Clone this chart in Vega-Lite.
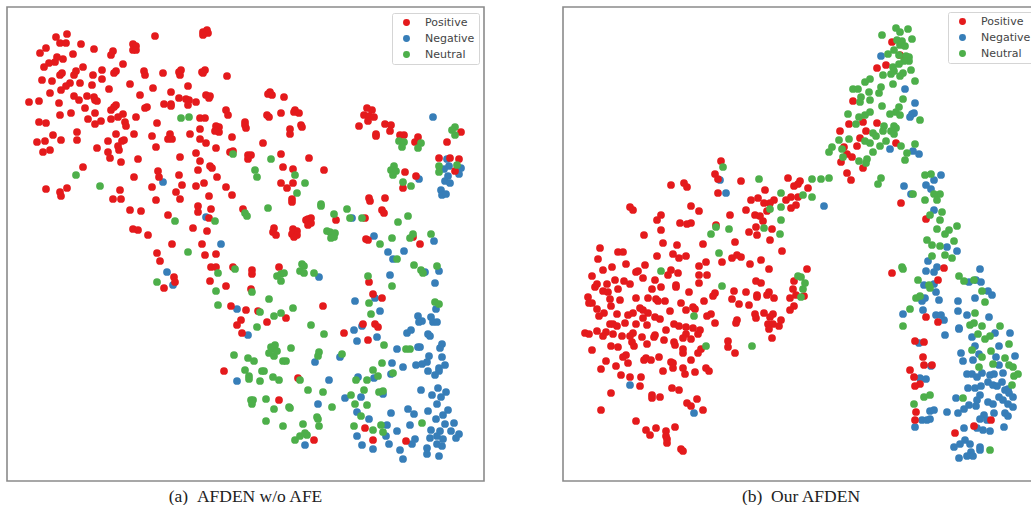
{"$schema":"https://vega.github.io/schema/vega-lite/v6.json","padding":{"left":6,"top":6,"right":0,"bottom":0},"autosize":{"type":"pad"},"background":"white","spacing":77,"config":{"view":{"stroke":"#8a8a8a","strokeWidth":1.6},"legend":{"fillColor":"white","strokeColor":"#d5d5d5","strokeWidth":1,"cornerRadius":2,"padding":4,"labelFont":"DejaVu Sans","labelFontSize":11,"labelColor":"#444444","symbolSize":48,"symbolStrokeWidth":0,"rowPadding":4,"labelOffset":13,"symbolOffset":5,"title":null},"title":{"font":"Liberation Serif","fontSize":17.5,"fontWeight":"normal","color":"#222222","orient":"bottom","offset":7,"anchor":"middle"}},
"datasets":{
"a":[
{"c":"Negative","x":163,"y":182},{"c":"Negative","x":206,"y":217},{"c":"Negative","x":221,"y":244},{"c":"Negative","x":433,"y":117},{"c":"Negative","x":447,"y":159},{"c":"Negative","x":449,"y":166},{"c":"Negative","x":444,"y":169},{"c":"Negative","x":461,"y":168},{"c":"Negative","x":459,"y":174},{"c":"Negative","x":448,"y":176},{"c":"Negative","x":445,"y":181},{"c":"Negative","x":450,"y":183},{"c":"Negative","x":419,"y":179},{"c":"Negative","x":441,"y":190},{"c":"Negative","x":442,"y":195},{"c":"Negative","x":446,"y":194},{"c":"Negative","x":352,"y":218},{"c":"Negative","x":374,"y":236},{"c":"Negative","x":434,"y":241},{"c":"Negative","x":167,"y":272},{"c":"Negative","x":173,"y":285},{"c":"Negative","x":237,"y":309},{"c":"Negative","x":248,"y":335},{"c":"Negative","x":319,"y":277},{"c":"Negative","x":388,"y":252},{"c":"Negative","x":393,"y":259},{"c":"Negative","x":404,"y":251},{"c":"Negative","x":390,"y":275},{"c":"Negative","x":425,"y":272},{"c":"Negative","x":439,"y":271},{"c":"Negative","x":435,"y":283},{"c":"Negative","x":436,"y":309},{"c":"Negative","x":375,"y":298},{"c":"Negative","x":380,"y":311},{"c":"Negative","x":355,"y":301},{"c":"Negative","x":354,"y":330},{"c":"Negative","x":362,"y":326},{"c":"Negative","x":357,"y":341},{"c":"Negative","x":377,"y":337},{"c":"Negative","x":397,"y":349},{"c":"Negative","x":418,"y":316},{"c":"Negative","x":419,"y":322},{"c":"Negative","x":422,"y":321},{"c":"Negative","x":431,"y":317},{"c":"Negative","x":433,"y":322},{"c":"Negative","x":437,"y":322},{"c":"Negative","x":407,"y":333},{"c":"Negative","x":411,"y":330},{"c":"Negative","x":428,"y":334},{"c":"Negative","x":430,"y":336},{"c":"Negative","x":418,"y":347},{"c":"Negative","x":420,"y":347},{"c":"Negative","x":442,"y":344},{"c":"Negative","x":440,"y":348},{"c":"Negative","x":429,"y":356},{"c":"Negative","x":442,"y":357},{"c":"Negative","x":315,"y":362},{"c":"Negative","x":340,"y":357},{"c":"Negative","x":392,"y":363},{"c":"Negative","x":427,"y":362},{"c":"Negative","x":422,"y":364},{"c":"Negative","x":416,"y":365},{"c":"Negative","x":445,"y":365},{"c":"Negative","x":439,"y":368},{"c":"Negative","x":439,"y":371},{"c":"Negative","x":428,"y":371},{"c":"Negative","x":435,"y":375},{"c":"Negative","x":403,"y":367},{"c":"Negative","x":391,"y":374},{"c":"Negative","x":237,"y":381},{"c":"Negative","x":329,"y":380},{"c":"Negative","x":358,"y":377},{"c":"Negative","x":374,"y":378},{"c":"Negative","x":421,"y":390},{"c":"Negative","x":438,"y":388},{"c":"Negative","x":446,"y":392},{"c":"Negative","x":441,"y":397},{"c":"Negative","x":432,"y":395},{"c":"Negative","x":361,"y":397},{"c":"Negative","x":383,"y":394},{"c":"Negative","x":345,"y":398},{"c":"Negative","x":437,"y":404},{"c":"Negative","x":318,"y":404},{"c":"Negative","x":408,"y":409},{"c":"Negative","x":414,"y":414},{"c":"Negative","x":428,"y":411},{"c":"Negative","x":448,"y":410},{"c":"Negative","x":443,"y":415},{"c":"Negative","x":436,"y":419},{"c":"Negative","x":391,"y":413},{"c":"Negative","x":357,"y":412},{"c":"Negative","x":369,"y":419},{"c":"Negative","x":445,"y":424},{"c":"Negative","x":454,"y":423},{"c":"Negative","x":410,"y":425},{"c":"Negative","x":387,"y":425},{"c":"Negative","x":397,"y":431},{"c":"Negative","x":431,"y":430},{"c":"Negative","x":440,"y":431},{"c":"Negative","x":451,"y":431},{"c":"Negative","x":437,"y":436},{"c":"Negative","x":430,"y":438},{"c":"Negative","x":443,"y":439},{"c":"Negative","x":386,"y":436},{"c":"Negative","x":357,"y":436},{"c":"Negative","x":362,"y":445},{"c":"Negative","x":373,"y":449},{"c":"Negative","x":389,"y":444},{"c":"Negative","x":400,"y":450},{"c":"Negative","x":403,"y":459},{"c":"Negative","x":415,"y":439},{"c":"Negative","x":412,"y":444},{"c":"Negative","x":459,"y":434},{"c":"Negative","x":456,"y":438},{"c":"Negative","x":437,"y":444},{"c":"Negative","x":442,"y":446},{"c":"Negative","x":427,"y":448},{"c":"Negative","x":427,"y":454},{"c":"Negative","x":439,"y":456},{"c":"Negative","x":305,"y":445},
{"c":"Positive","x":56,"y":37},{"c":"Positive","x":67,"y":34},{"c":"Positive","x":46,"y":48},{"c":"Positive","x":40,"y":53},{"c":"Positive","x":60,"y":43},{"c":"Positive","x":66,"y":43},{"c":"Positive","x":81,"y":44},{"c":"Positive","x":73,"y":54},{"c":"Positive","x":94,"y":49},{"c":"Positive","x":57,"y":57},{"c":"Positive","x":63,"y":59},{"c":"Positive","x":55,"y":62},{"c":"Positive","x":49,"y":63},{"c":"Positive","x":44,"y":67},{"c":"Positive","x":83,"y":67},{"c":"Positive","x":76,"y":71},{"c":"Positive","x":74,"y":75},{"c":"Positive","x":102,"y":70},{"c":"Positive","x":93,"y":75},{"c":"Positive","x":102,"y":79},{"c":"Positive","x":113,"y":51},{"c":"Positive","x":111,"y":55},{"c":"Positive","x":133,"y":44},{"c":"Positive","x":136,"y":46},{"c":"Positive","x":133,"y":50},{"c":"Positive","x":136,"y":50},{"c":"Positive","x":155,"y":36},{"c":"Positive","x":203,"y":32},{"c":"Positive","x":207,"y":30},{"c":"Positive","x":208,"y":33},{"c":"Positive","x":203,"y":35},{"c":"Positive","x":123,"y":64},{"c":"Positive","x":116,"y":71},{"c":"Positive","x":114,"y":73},{"c":"Positive","x":144,"y":71},{"c":"Positive","x":145,"y":75},{"c":"Positive","x":163,"y":73},{"c":"Positive","x":179,"y":72},{"c":"Positive","x":181,"y":70},{"c":"Positive","x":180,"y":75},{"c":"Positive","x":202,"y":72},{"c":"Positive","x":205,"y":70},{"c":"Positive","x":203,"y":73},{"c":"Positive","x":227,"y":76},{"c":"Positive","x":42,"y":80},{"c":"Positive","x":52,"y":81},{"c":"Positive","x":60,"y":75},{"c":"Positive","x":62,"y":73},{"c":"Positive","x":70,"y":83},{"c":"Positive","x":66,"y":86},{"c":"Positive","x":61,"y":90},{"c":"Positive","x":80,"y":83},{"c":"Positive","x":92,"y":85},{"c":"Positive","x":50,"y":93},{"c":"Positive","x":109,"y":89},{"c":"Positive","x":130,"y":84},{"c":"Positive","x":153,"y":88},{"c":"Positive","x":171,"y":92},{"c":"Positive","x":188,"y":86},{"c":"Positive","x":140,"y":95},{"c":"Positive","x":74,"y":96},{"c":"Positive","x":79,"y":100},{"c":"Positive","x":87,"y":96},{"c":"Positive","x":94,"y":97},{"c":"Positive","x":95,"y":100},{"c":"Positive","x":97,"y":101},{"c":"Positive","x":29,"y":102},{"c":"Positive","x":39,"y":101},{"c":"Positive","x":59,"y":103},{"c":"Positive","x":179,"y":98},{"c":"Positive","x":186,"y":99},{"c":"Positive","x":189,"y":100},{"c":"Positive","x":188,"y":105},{"c":"Positive","x":196,"y":102},{"c":"Positive","x":206,"y":95},{"c":"Positive","x":210,"y":96},{"c":"Positive","x":209,"y":98},{"c":"Positive","x":164,"y":104},{"c":"Positive","x":171,"y":104},{"c":"Positive","x":171,"y":106},{"c":"Positive","x":147,"y":107},{"c":"Positive","x":145,"y":108},{"c":"Positive","x":85,"y":108},{"c":"Positive","x":116,"y":105},{"c":"Positive","x":114,"y":107},{"c":"Positive","x":111,"y":110},{"c":"Positive","x":95,"y":113},{"c":"Positive","x":60,"y":115},{"c":"Positive","x":71,"y":113},{"c":"Positive","x":123,"y":114},{"c":"Positive","x":118,"y":117},{"c":"Positive","x":111,"y":119},{"c":"Positive","x":136,"y":117},{"c":"Positive","x":88,"y":119},{"c":"Positive","x":101,"y":121},{"c":"Positive","x":95,"y":124},{"c":"Positive","x":39,"y":122},{"c":"Positive","x":46,"y":123},{"c":"Positive","x":125,"y":122},{"c":"Positive","x":126,"y":126},{"c":"Positive","x":157,"y":123},{"c":"Positive","x":226,"y":110},{"c":"Positive","x":228,"y":115},{"c":"Positive","x":200,"y":118},{"c":"Positive","x":205,"y":118},{"c":"Positive","x":200,"y":129},{"c":"Positive","x":216,"y":126},{"c":"Positive","x":219,"y":127},{"c":"Positive","x":217,"y":130},{"c":"Positive","x":219,"y":132},{"c":"Positive","x":215,"y":131},{"c":"Positive","x":77,"y":132},{"c":"Positive","x":53,"y":135},{"c":"Positive","x":116,"y":134},{"c":"Positive","x":134,"y":134},{"c":"Positive","x":152,"y":136},{"c":"Positive","x":170,"y":134},{"c":"Positive","x":168,"y":139},{"c":"Positive","x":172,"y":139},{"c":"Positive","x":190,"y":134},{"c":"Positive","x":200,"y":139},{"c":"Positive","x":206,"y":143},{"c":"Positive","x":232,"y":137},{"c":"Positive","x":37,"y":142},{"c":"Positive","x":45,"y":141},{"c":"Positive","x":61,"y":140},{"c":"Positive","x":77,"y":140},{"c":"Positive","x":108,"y":141},{"c":"Positive","x":122,"y":141},{"c":"Positive","x":124,"y":140},{"c":"Positive","x":97,"y":148},{"c":"Positive","x":118,"y":146},{"c":"Positive","x":119,"y":150},{"c":"Positive","x":156,"y":147},{"c":"Positive","x":216,"y":148},{"c":"Positive","x":43,"y":152},{"c":"Positive","x":50,"y":150},{"c":"Positive","x":108,"y":152},{"c":"Positive","x":110,"y":158},{"c":"Positive","x":121,"y":162},{"c":"Positive","x":138,"y":159},{"c":"Positive","x":180,"y":157},{"c":"Positive","x":196,"y":153},{"c":"Positive","x":230,"y":152},{"c":"Positive","x":233,"y":151},{"c":"Positive","x":200,"y":161},{"c":"Positive","x":210,"y":166},{"c":"Positive","x":212,"y":168},{"c":"Positive","x":83,"y":167},{"c":"Positive","x":198,"y":170},{"c":"Positive","x":158,"y":171},{"c":"Positive","x":159,"y":177},{"c":"Positive","x":179,"y":175},{"c":"Positive","x":134,"y":177},{"c":"Positive","x":217,"y":177},{"c":"Positive","x":46,"y":189},{"c":"Positive","x":67,"y":188},{"c":"Positive","x":60,"y":192},{"c":"Positive","x":61,"y":196},{"c":"Positive","x":152,"y":187},{"c":"Positive","x":182,"y":185},{"c":"Positive","x":196,"y":186},{"c":"Positive","x":204,"y":183},{"c":"Positive","x":226,"y":187},{"c":"Positive","x":232,"y":195},{"c":"Positive","x":120,"y":190},{"c":"Positive","x":113,"y":199},{"c":"Positive","x":121,"y":199},{"c":"Positive","x":156,"y":200},{"c":"Positive","x":176,"y":192},{"c":"Positive","x":180,"y":199},{"c":"Positive","x":209,"y":196},{"c":"Positive","x":198,"y":206},{"c":"Positive","x":198,"y":212},{"c":"Positive","x":211,"y":209},{"c":"Positive","x":130,"y":210},{"c":"Positive","x":141,"y":211},{"c":"Positive","x":168,"y":215},{"c":"Positive","x":209,"y":218},{"c":"Positive","x":133,"y":229},{"c":"Positive","x":138,"y":230},{"c":"Positive","x":148,"y":235},{"c":"Positive","x":193,"y":228},{"c":"Positive","x":207,"y":231},{"c":"Positive","x":172,"y":244},{"c":"Positive","x":202,"y":244},
{"c":"Positive","x":270,"y":92},{"c":"Positive","x":268,"y":94},{"c":"Positive","x":272,"y":95},{"c":"Positive","x":284,"y":97},{"c":"Positive","x":267,"y":115},{"c":"Positive","x":269,"y":117},{"c":"Positive","x":281,"y":113},{"c":"Positive","x":295,"y":110},{"c":"Positive","x":294,"y":112},{"c":"Positive","x":299,"y":113},{"c":"Positive","x":245,"y":122},{"c":"Positive","x":245,"y":125},{"c":"Positive","x":246,"y":128},{"c":"Positive","x":290,"y":129},{"c":"Positive","x":290,"y":134},{"c":"Positive","x":301,"y":125},{"c":"Positive","x":302,"y":127},{"c":"Positive","x":263,"y":143},{"c":"Positive","x":248,"y":155},{"c":"Positive","x":251,"y":155},{"c":"Positive","x":248,"y":159},{"c":"Positive","x":281,"y":154},{"c":"Positive","x":309,"y":158},{"c":"Positive","x":283,"y":167},{"c":"Positive","x":293,"y":169},{"c":"Positive","x":324,"y":170},{"c":"Positive","x":281,"y":183},{"c":"Positive","x":293,"y":183},{"c":"Positive","x":287,"y":188},{"c":"Positive","x":292,"y":199},{"c":"Positive","x":292,"y":202},{"c":"Positive","x":243,"y":209},{"c":"Positive","x":308,"y":219},{"c":"Positive","x":311,"y":218},{"c":"Positive","x":306,"y":220},{"c":"Positive","x":311,"y":223},{"c":"Positive","x":308,"y":225},{"c":"Positive","x":336,"y":220},{"c":"Positive","x":274,"y":228},{"c":"Positive","x":273,"y":232},{"c":"Positive","x":276,"y":235},{"c":"Positive","x":293,"y":229},{"c":"Positive","x":297,"y":231},{"c":"Positive","x":292,"y":234},{"c":"Positive","x":297,"y":235},{"c":"Positive","x":294,"y":237},{"c":"Positive","x":369,"y":198},{"c":"Positive","x":370,"y":201},{"c":"Positive","x":385,"y":198},{"c":"Positive","x":382,"y":210},{"c":"Positive","x":384,"y":213},{"c":"Positive","x":365,"y":218},{"c":"Positive","x":366,"y":239},{"c":"Positive","x":368,"y":240},{"c":"Positive","x":413,"y":237},{"c":"Positive","x":420,"y":244},{"c":"Positive","x":367,"y":108},{"c":"Positive","x":372,"y":110},{"c":"Positive","x":364,"y":115},{"c":"Positive","x":369,"y":116},{"c":"Positive","x":374,"y":117},{"c":"Positive","x":368,"y":121},{"c":"Positive","x":359,"y":126},{"c":"Positive","x":385,"y":124},{"c":"Positive","x":391,"y":125},{"c":"Positive","x":390,"y":131},{"c":"Positive","x":376,"y":134},{"c":"Positive","x":376,"y":136},{"c":"Positive","x":400,"y":135},{"c":"Positive","x":404,"y":135},{"c":"Positive","x":418,"y":137},{"c":"Positive","x":415,"y":142},{"c":"Positive","x":461,"y":132},{"c":"Positive","x":447,"y":142},{"c":"Positive","x":439,"y":158},{"c":"Positive","x":450,"y":158},{"c":"Positive","x":459,"y":159},{"c":"Positive","x":455,"y":171},{"c":"Positive","x":405,"y":172},{"c":"Positive","x":416,"y":176},{"c":"Positive","x":403,"y":188},
{"c":"Positive","x":157,"y":253},{"c":"Positive","x":160,"y":261},{"c":"Positive","x":205,"y":255},{"c":"Positive","x":216,"y":254},{"c":"Positive","x":211,"y":267},{"c":"Positive","x":216,"y":267},{"c":"Positive","x":233,"y":267},{"c":"Positive","x":174,"y":277},{"c":"Positive","x":175,"y":282},{"c":"Positive","x":164,"y":288},{"c":"Positive","x":210,"y":281},{"c":"Positive","x":226,"y":286},{"c":"Positive","x":252,"y":270},{"c":"Positive","x":252,"y":274},{"c":"Positive","x":279,"y":267},{"c":"Positive","x":251,"y":289},{"c":"Positive","x":231,"y":306},{"c":"Positive","x":246,"y":310},{"c":"Positive","x":258,"y":311},{"c":"Positive","x":241,"y":320},{"c":"Positive","x":237,"y":325},{"c":"Positive","x":267,"y":322},{"c":"Positive","x":286,"y":318},{"c":"Positive","x":242,"y":333},{"c":"Positive","x":323,"y":306},{"c":"Positive","x":369,"y":282},{"c":"Positive","x":373,"y":294},{"c":"Positive","x":382,"y":298},{"c":"Positive","x":375,"y":324},{"c":"Positive","x":378,"y":327},{"c":"Positive","x":363,"y":324},{"c":"Positive","x":344,"y":333},{"c":"Positive","x":368,"y":340},{"c":"Positive","x":224,"y":371},{"c":"Positive","x":298,"y":378},{"c":"Positive","x":279,"y":400},{"c":"Positive","x":365,"y":428},{"c":"Positive","x":373,"y":440},{"c":"Positive","x":406,"y":441},{"c":"Positive","x":314,"y":440},
{"c":"Neutral","x":181,"y":118},{"c":"Neutral","x":189,"y":117},{"c":"Neutral","x":233,"y":154},{"c":"Neutral","x":76,"y":175},{"c":"Neutral","x":100,"y":186},{"c":"Neutral","x":175,"y":221},{"c":"Neutral","x":215,"y":221},{"c":"Neutral","x":245,"y":213},{"c":"Neutral","x":271,"y":159},{"c":"Neutral","x":255,"y":170},{"c":"Neutral","x":257,"y":177},{"c":"Neutral","x":295,"y":175},{"c":"Neutral","x":305,"y":183},{"c":"Neutral","x":297,"y":193},{"c":"Neutral","x":268,"y":208},{"c":"Neutral","x":321,"y":204},{"c":"Neutral","x":321,"y":206},{"c":"Neutral","x":247,"y":216},{"c":"Neutral","x":334,"y":214},{"c":"Neutral","x":347,"y":209},{"c":"Neutral","x":350,"y":218},{"c":"Neutral","x":362,"y":218},{"c":"Neutral","x":327,"y":231},{"c":"Neutral","x":330,"y":232},{"c":"Neutral","x":335,"y":233},{"c":"Neutral","x":332,"y":235},{"c":"Neutral","x":334,"y":237},{"c":"Neutral","x":331,"y":238},{"c":"Neutral","x":398,"y":222},{"c":"Neutral","x":408,"y":216},{"c":"Neutral","x":455,"y":127},{"c":"Neutral","x":452,"y":130},{"c":"Neutral","x":455,"y":135},{"c":"Neutral","x":399,"y":141},{"c":"Neutral","x":404,"y":142},{"c":"Neutral","x":402,"y":147},{"c":"Neutral","x":421,"y":143},{"c":"Neutral","x":418,"y":148},{"c":"Neutral","x":439,"y":166},{"c":"Neutral","x":439,"y":172},{"c":"Neutral","x":457,"y":165},{"c":"Neutral","x":394,"y":166},{"c":"Neutral","x":391,"y":170},{"c":"Neutral","x":396,"y":171},{"c":"Neutral","x":393,"y":175},{"c":"Neutral","x":403,"y":182},{"c":"Neutral","x":411,"y":186},{"c":"Neutral","x":392,"y":238},{"c":"Neutral","x":413,"y":234},{"c":"Neutral","x":410,"y":238},{"c":"Neutral","x":380,"y":244},{"c":"Neutral","x":431,"y":234},
{"c":"Neutral","x":188,"y":252},{"c":"Neutral","x":218,"y":273},{"c":"Neutral","x":235,"y":269},{"c":"Neutral","x":157,"y":282},{"c":"Neutral","x":216,"y":291},{"c":"Neutral","x":252,"y":292},{"c":"Neutral","x":218,"y":305},{"c":"Neutral","x":269,"y":299},{"c":"Neutral","x":293,"y":308},{"c":"Neutral","x":260,"y":312},{"c":"Neutral","x":274,"y":316},{"c":"Neutral","x":281,"y":313},{"c":"Neutral","x":257,"y":327},{"c":"Neutral","x":311,"y":325},{"c":"Neutral","x":324,"y":334},{"c":"Neutral","x":302,"y":264},{"c":"Neutral","x":304,"y":266},{"c":"Neutral","x":300,"y":271},{"c":"Neutral","x":304,"y":273},{"c":"Neutral","x":277,"y":276},{"c":"Neutral","x":281,"y":274},{"c":"Neutral","x":284,"y":273},{"c":"Neutral","x":281,"y":281},{"c":"Neutral","x":314,"y":273},{"c":"Neutral","x":368,"y":276},{"c":"Neutral","x":392,"y":286},{"c":"Neutral","x":369,"y":303},{"c":"Neutral","x":371,"y":314},{"c":"Neutral","x":397,"y":259},{"c":"Neutral","x":414,"y":265},{"c":"Neutral","x":421,"y":270},{"c":"Neutral","x":423,"y":273},{"c":"Neutral","x":437,"y":266},{"c":"Neutral","x":435,"y":302},{"c":"Neutral","x":439,"y":304},{"c":"Neutral","x":384,"y":345},{"c":"Neutral","x":406,"y":349},{"c":"Neutral","x":410,"y":349},{"c":"Neutral","x":234,"y":355},{"c":"Neutral","x":248,"y":358},{"c":"Neutral","x":254,"y":361},{"c":"Neutral","x":271,"y":347},{"c":"Neutral","x":275,"y":345},{"c":"Neutral","x":273,"y":349},{"c":"Neutral","x":277,"y":351},{"c":"Neutral","x":269,"y":353},{"c":"Neutral","x":274,"y":356},{"c":"Neutral","x":291,"y":348},{"c":"Neutral","x":283,"y":361},{"c":"Neutral","x":286,"y":361},{"c":"Neutral","x":319,"y":352},{"c":"Neutral","x":318,"y":356},{"c":"Neutral","x":342,"y":354},{"c":"Neutral","x":245,"y":370},{"c":"Neutral","x":249,"y":376},{"c":"Neutral","x":249,"y":379},{"c":"Neutral","x":262,"y":371},{"c":"Neutral","x":264,"y":371},{"c":"Neutral","x":260,"y":381},{"c":"Neutral","x":273,"y":377},{"c":"Neutral","x":279,"y":380},{"c":"Neutral","x":300,"y":380},{"c":"Neutral","x":308,"y":390},{"c":"Neutral","x":323,"y":392},{"c":"Neutral","x":251,"y":400},{"c":"Neutral","x":253,"y":400},{"c":"Neutral","x":252,"y":404},{"c":"Neutral","x":266,"y":399},{"c":"Neutral","x":274,"y":409},{"c":"Neutral","x":289,"y":407},{"c":"Neutral","x":290,"y":408},{"c":"Neutral","x":332,"y":407},{"c":"Neutral","x":317,"y":417},{"c":"Neutral","x":318,"y":419},{"c":"Neutral","x":319,"y":426},{"c":"Neutral","x":266,"y":421},{"c":"Neutral","x":283,"y":426},{"c":"Neutral","x":303,"y":424},{"c":"Neutral","x":295,"y":440},{"c":"Neutral","x":300,"y":436},{"c":"Neutral","x":305,"y":433},{"c":"Neutral","x":307,"y":435},{"c":"Neutral","x":382,"y":363},{"c":"Neutral","x":373,"y":370},{"c":"Neutral","x":367,"y":380},{"c":"Neutral","x":378,"y":376},{"c":"Neutral","x":393,"y":373},{"c":"Neutral","x":356,"y":380},{"c":"Neutral","x":364,"y":390},{"c":"Neutral","x":379,"y":392},{"c":"Neutral","x":383,"y":391},{"c":"Neutral","x":351,"y":395},{"c":"Neutral","x":355,"y":404},{"c":"Neutral","x":367,"y":405},{"c":"Neutral","x":361,"y":416},{"c":"Neutral","x":354,"y":426},{"c":"Neutral","x":373,"y":430},{"c":"Neutral","x":381,"y":425},{"c":"Neutral","x":383,"y":432},{"c":"Neutral","x":422,"y":423}
],
"b":[
{"c":"Negative","x":720,"y":180},{"c":"Negative","x":726,"y":193},{"c":"Negative","x":824,"y":206},{"c":"Negative","x":630,"y":385},{"c":"Negative","x":694,"y":413},{"c":"Negative","x":881,"y":56},{"c":"Negative","x":905,"y":89},{"c":"Negative","x":915,"y":103},{"c":"Negative","x":914,"y":113},{"c":"Negative","x":912,"y":114},{"c":"Negative","x":910,"y":117},{"c":"Negative","x":890,"y":149},{"c":"Negative","x":913,"y":151},{"c":"Negative","x":919,"y":154},{"c":"Negative","x":941,"y":175},{"c":"Negative","x":934,"y":180},{"c":"Negative","x":926,"y":185},{"c":"Negative","x":931,"y":189},{"c":"Negative","x":904,"y":186},{"c":"Negative","x":911,"y":194},{"c":"Negative","x":934,"y":210},{"c":"Negative","x":947,"y":247},{"c":"Negative","x":957,"y":251},{"c":"Negative","x":928,"y":261},{"c":"Negative","x":937,"y":267},{"c":"Negative","x":934,"y":272},{"c":"Negative","x":926,"y":271},{"c":"Negative","x":980,"y":269},{"c":"Negative","x":969,"y":282},{"c":"Negative","x":976,"y":280},{"c":"Negative","x":981,"y":282},{"c":"Negative","x":924,"y":285},{"c":"Negative","x":934,"y":284},{"c":"Negative","x":936,"y":292},{"c":"Negative","x":988,"y":291},{"c":"Negative","x":992,"y":295},{"c":"Negative","x":925,"y":298},{"c":"Negative","x":922,"y":301},{"c":"Negative","x":939,"y":300},{"c":"Negative","x":975,"y":298},{"c":"Negative","x":958,"y":301},{"c":"Negative","x":923,"y":310},{"c":"Negative","x":958,"y":311},{"c":"Negative","x":967,"y":315},{"c":"Negative","x":936,"y":315},{"c":"Negative","x":941,"y":315},{"c":"Negative","x":944,"y":320},{"c":"Negative","x":989,"y":317},{"c":"Negative","x":903,"y":314},{"c":"Negative","x":959,"y":328},{"c":"Negative","x":959,"y":329},{"c":"Negative","x":945,"y":335},{"c":"Negative","x":972,"y":337},{"c":"Negative","x":995,"y":333},{"c":"Negative","x":1010,"y":333},{"c":"Negative","x":919,"y":343},{"c":"Negative","x":975,"y":346},{"c":"Negative","x":999,"y":346},{"c":"Negative","x":961,"y":353},{"c":"Negative","x":979,"y":354},{"c":"Negative","x":963,"y":361},{"c":"Negative","x":973,"y":360},{"c":"Negative","x":996,"y":357},{"c":"Negative","x":1015,"y":356},{"c":"Negative","x":931,"y":366},{"c":"Negative","x":999,"y":365},{"c":"Negative","x":967,"y":374},{"c":"Negative","x":972,"y":374},{"c":"Negative","x":977,"y":377},{"c":"Negative","x":982,"y":373},{"c":"Negative","x":990,"y":375},{"c":"Negative","x":994,"y":374},{"c":"Negative","x":1003,"y":373},{"c":"Negative","x":920,"y":378},{"c":"Negative","x":926,"y":379},{"c":"Negative","x":988,"y":382},{"c":"Negative","x":993,"y":385},{"c":"Negative","x":997,"y":386},{"c":"Negative","x":1002,"y":382},{"c":"Negative","x":968,"y":388},{"c":"Negative","x":975,"y":388},{"c":"Negative","x":981,"y":386},{"c":"Negative","x":1005,"y":390},{"c":"Negative","x":1008,"y":389},{"c":"Negative","x":1009,"y":393},{"c":"Negative","x":1013,"y":397},{"c":"Negative","x":999,"y":397},{"c":"Negative","x":1003,"y":400},{"c":"Negative","x":956,"y":398},{"c":"Negative","x":980,"y":395},{"c":"Negative","x":977,"y":400},{"c":"Negative","x":988,"y":402},{"c":"Negative","x":993,"y":404},{"c":"Negative","x":976,"y":406},{"c":"Negative","x":969,"y":405},{"c":"Negative","x":964,"y":409},{"c":"Negative","x":958,"y":413},{"c":"Negative","x":1008,"y":404},{"c":"Negative","x":1013,"y":407},{"c":"Negative","x":930,"y":411},{"c":"Negative","x":934,"y":410},{"c":"Negative","x":947,"y":412},{"c":"Negative","x":994,"y":413},{"c":"Negative","x":1005,"y":413},{"c":"Negative","x":1008,"y":416},{"c":"Negative","x":984,"y":415},{"c":"Negative","x":980,"y":419},{"c":"Negative","x":987,"y":420},{"c":"Negative","x":922,"y":420},{"c":"Negative","x":927,"y":420},{"c":"Negative","x":930,"y":419},{"c":"Negative","x":915,"y":427},{"c":"Negative","x":1004,"y":427},{"c":"Negative","x":964,"y":428},{"c":"Negative","x":977,"y":428},{"c":"Negative","x":983,"y":430},{"c":"Negative","x":990,"y":431},{"c":"Negative","x":965,"y":440},{"c":"Negative","x":970,"y":444},{"c":"Negative","x":960,"y":444},{"c":"Negative","x":954,"y":447},{"c":"Negative","x":980,"y":447},{"c":"Negative","x":980,"y":450},{"c":"Negative","x":971,"y":452},{"c":"Negative","x":967,"y":456},{"c":"Negative","x":973,"y":456},{"c":"Negative","x":959,"y":458},
{"c":"Positive","x":721,"y":161},{"c":"Positive","x":671,"y":185},{"c":"Positive","x":684,"y":183},{"c":"Positive","x":687,"y":187},{"c":"Positive","x":715,"y":174},{"c":"Positive","x":718,"y":179},{"c":"Positive","x":741,"y":181},{"c":"Positive","x":788,"y":178},{"c":"Positive","x":800,"y":181},{"c":"Positive","x":798,"y":184},{"c":"Positive","x":794,"y":186},{"c":"Positive","x":808,"y":188},{"c":"Positive","x":765,"y":190},{"c":"Positive","x":718,"y":193},{"c":"Positive","x":751,"y":200},{"c":"Positive","x":758,"y":198},{"c":"Positive","x":774,"y":200},{"c":"Positive","x":770,"y":203},{"c":"Positive","x":764,"y":203},{"c":"Positive","x":786,"y":200},{"c":"Positive","x":791,"y":197},{"c":"Positive","x":798,"y":197},{"c":"Positive","x":796,"y":205},{"c":"Positive","x":791,"y":208},{"c":"Positive","x":767,"y":211},{"c":"Positive","x":746,"y":210},{"c":"Positive","x":691,"y":206},{"c":"Positive","x":699,"y":211},{"c":"Positive","x":630,"y":207},{"c":"Positive","x":633,"y":210},{"c":"Positive","x":730,"y":215},{"c":"Positive","x":755,"y":215},{"c":"Positive","x":760,"y":216},{"c":"Positive","x":763,"y":221},{"c":"Positive","x":661,"y":215},{"c":"Positive","x":657,"y":220},{"c":"Positive","x":680,"y":223},{"c":"Positive","x":687,"y":224},{"c":"Positive","x":691,"y":223},{"c":"Positive","x":716,"y":225},{"c":"Positive","x":756,"y":227},{"c":"Positive","x":772,"y":229},{"c":"Positive","x":749,"y":232},{"c":"Positive","x":757,"y":235},{"c":"Positive","x":770,"y":240},{"c":"Positive","x":661,"y":230},{"c":"Positive","x":644,"y":235},{"c":"Positive","x":663,"y":243},{"c":"Positive","x":677,"y":245},{"c":"Positive","x":703,"y":244},{"c":"Positive","x":735,"y":242},{"c":"Positive","x":600,"y":248},{"c":"Positive","x":618,"y":252},{"c":"Positive","x":623,"y":252},{"c":"Positive","x":782,"y":251},{"c":"Positive","x":673,"y":254},{"c":"Positive","x":679,"y":258},{"c":"Positive","x":686,"y":256},{"c":"Positive","x":657,"y":256},{"c":"Positive","x":598,"y":259},{"c":"Positive","x":732,"y":258},{"c":"Positive","x":737,"y":255},{"c":"Positive","x":741,"y":257},{"c":"Positive","x":722,"y":262},{"c":"Positive","x":750,"y":264},{"c":"Positive","x":761,"y":260},{"c":"Positive","x":706,"y":262},{"c":"Positive","x":699,"y":266},{"c":"Positive","x":626,"y":264},{"c":"Positive","x":645,"y":265},{"c":"Positive","x":612,"y":267},{"c":"Positive","x":603,"y":270},{"c":"Positive","x":636,"y":272},{"c":"Positive","x":638,"y":271},{"c":"Positive","x":671,"y":270},{"c":"Positive","x":668,"y":275},{"c":"Positive","x":678,"y":273},{"c":"Positive","x":769,"y":269},{"c":"Positive","x":807,"y":269},{"c":"Positive","x":699,"y":275},{"c":"Positive","x":707,"y":275},{"c":"Positive","x":592,"y":276},{"c":"Positive","x":643,"y":278},{"c":"Positive","x":615,"y":280},{"c":"Positive","x":624,"y":281},{"c":"Positive","x":630,"y":284},{"c":"Positive","x":655,"y":280},{"c":"Positive","x":607,"y":284},{"c":"Positive","x":597,"y":284},{"c":"Positive","x":595,"y":287},{"c":"Positive","x":699,"y":283},{"c":"Positive","x":756,"y":281},{"c":"Positive","x":761,"y":283},{"c":"Positive","x":676,"y":285},{"c":"Positive","x":676,"y":287},{"c":"Positive","x":794,"y":281},{"c":"Positive","x":661,"y":287},{"c":"Positive","x":652,"y":289},{"c":"Positive","x":618,"y":289},{"c":"Positive","x":603,"y":291},{"c":"Positive","x":608,"y":292},{"c":"Positive","x":689,"y":292},{"c":"Positive","x":734,"y":291},{"c":"Positive","x":793,"y":289},{"c":"Positive","x":715,"y":293},{"c":"Positive","x":713,"y":296},{"c":"Positive","x":746,"y":292},{"c":"Positive","x":769,"y":292},{"c":"Positive","x":767,"y":295},{"c":"Positive","x":757,"y":295},{"c":"Positive","x":757,"y":297},{"c":"Positive","x":588,"y":297},{"c":"Positive","x":610,"y":299},{"c":"Positive","x":620,"y":300},{"c":"Positive","x":636,"y":298},{"c":"Positive","x":648,"y":298},{"c":"Positive","x":656,"y":299},{"c":"Positive","x":658,"y":301},{"c":"Positive","x":665,"y":301},{"c":"Positive","x":704,"y":301},{"c":"Positive","x":732,"y":299},{"c":"Positive","x":774,"y":298},{"c":"Positive","x":796,"y":295},{"c":"Positive","x":804,"y":296},{"c":"Positive","x":790,"y":298},{"c":"Positive","x":592,"y":303},{"c":"Positive","x":589,"y":303},{"c":"Positive","x":611,"y":306},{"c":"Positive","x":681,"y":303},{"c":"Positive","x":739,"y":304},{"c":"Positive","x":749,"y":305},{"c":"Positive","x":693,"y":307},{"c":"Positive","x":695,"y":309},{"c":"Positive","x":686,"y":310},{"c":"Positive","x":794,"y":306},{"c":"Positive","x":790,"y":310},{"c":"Positive","x":597,"y":309},{"c":"Positive","x":604,"y":313},{"c":"Positive","x":599,"y":316},{"c":"Positive","x":617,"y":314},{"c":"Positive","x":640,"y":308},{"c":"Positive","x":643,"y":310},{"c":"Positive","x":648,"y":313},{"c":"Positive","x":633,"y":313},{"c":"Positive","x":628,"y":315},{"c":"Positive","x":670,"y":311},{"c":"Positive","x":643,"y":318},{"c":"Positive","x":655,"y":317},{"c":"Positive","x":660,"y":319},{"c":"Positive","x":764,"y":313},{"c":"Positive","x":755,"y":314},{"c":"Positive","x":773,"y":314},{"c":"Positive","x":770,"y":317},{"c":"Positive","x":756,"y":318},{"c":"Positive","x":711,"y":314},{"c":"Positive","x":707,"y":316},{"c":"Positive","x":737,"y":320},{"c":"Positive","x":736,"y":323},{"c":"Positive","x":781,"y":320},{"c":"Positive","x":715,"y":323},{"c":"Positive","x":625,"y":323},{"c":"Positive","x":636,"y":324},{"c":"Positive","x":610,"y":324},{"c":"Positive","x":613,"y":324},{"c":"Positive","x":617,"y":326},{"c":"Positive","x":647,"y":325},{"c":"Positive","x":674,"y":324},{"c":"Positive","x":679,"y":326},{"c":"Positive","x":686,"y":327},{"c":"Positive","x":693,"y":328},{"c":"Positive","x":768,"y":324},{"c":"Positive","x":773,"y":324},{"c":"Positive","x":779,"y":326},{"c":"Positive","x":769,"y":329},{"c":"Positive","x":700,"y":330},{"c":"Positive","x":698,"y":334},{"c":"Positive","x":666,"y":330},{"c":"Positive","x":597,"y":331},{"c":"Positive","x":585,"y":333},{"c":"Positive","x":589,"y":334},{"c":"Positive","x":606,"y":332},{"c":"Positive","x":603,"y":336},{"c":"Positive","x":613,"y":334},{"c":"Positive","x":622,"y":336},{"c":"Positive","x":633,"y":333},{"c":"Positive","x":630,"y":336},{"c":"Positive","x":642,"y":337},{"c":"Positive","x":655,"y":335},{"c":"Positive","x":654,"y":337},{"c":"Positive","x":686,"y":334},{"c":"Positive","x":683,"y":338},{"c":"Positive","x":691,"y":339},{"c":"Positive","x":772,"y":338},{"c":"Positive","x":664,"y":340},{"c":"Positive","x":632,"y":342},{"c":"Positive","x":634,"y":346},{"c":"Positive","x":647,"y":344},{"c":"Positive","x":674,"y":342},{"c":"Positive","x":675,"y":345},{"c":"Positive","x":728,"y":341},{"c":"Positive","x":728,"y":347},{"c":"Positive","x":611,"y":346},{"c":"Positive","x":618,"y":347},{"c":"Positive","x":592,"y":350},{"c":"Positive","x":683,"y":349},{"c":"Positive","x":683,"y":353},{"c":"Positive","x":701,"y":349},{"c":"Positive","x":698,"y":353},{"c":"Positive","x":735,"y":353},{"c":"Positive","x":626,"y":355},{"c":"Positive","x":623,"y":357},{"c":"Positive","x":659,"y":357},{"c":"Positive","x":646,"y":358},{"c":"Positive","x":644,"y":360},{"c":"Positive","x":651,"y":360},{"c":"Positive","x":606,"y":361},{"c":"Positive","x":691,"y":360},{"c":"Positive","x":628,"y":363},{"c":"Positive","x":671,"y":362},{"c":"Positive","x":673,"y":363},{"c":"Positive","x":616,"y":366},{"c":"Positive","x":673,"y":368},{"c":"Positive","x":683,"y":368},{"c":"Positive","x":706,"y":368},{"c":"Positive","x":709,"y":371},{"c":"Positive","x":601,"y":369},{"c":"Positive","x":663,"y":371},{"c":"Positive","x":685,"y":374},{"c":"Positive","x":695,"y":372},{"c":"Positive","x":621,"y":375},{"c":"Positive","x":630,"y":377},{"c":"Positive","x":641,"y":377},{"c":"Positive","x":640,"y":386},{"c":"Positive","x":672,"y":388},{"c":"Positive","x":679,"y":390},{"c":"Positive","x":611,"y":393},{"c":"Positive","x":652,"y":395},{"c":"Positive","x":652,"y":398},{"c":"Positive","x":660,"y":397},{"c":"Positive","x":697,"y":399},{"c":"Positive","x":687,"y":403},{"c":"Positive","x":691,"y":406},{"c":"Positive","x":601,"y":410},{"c":"Positive","x":703,"y":410},{"c":"Positive","x":636,"y":421},{"c":"Positive","x":646,"y":430},{"c":"Positive","x":650,"y":435},{"c":"Positive","x":656,"y":428},{"c":"Positive","x":675,"y":427},{"c":"Positive","x":666,"y":431},{"c":"Positive","x":666,"y":436},{"c":"Positive","x":667,"y":439},{"c":"Positive","x":667,"y":443},{"c":"Positive","x":681,"y":449},{"c":"Positive","x":683,"y":451},
{"c":"Positive","x":892,"y":42},{"c":"Positive","x":900,"y":55},{"c":"Positive","x":886,"y":65},{"c":"Positive","x":877,"y":68},{"c":"Positive","x":853,"y":101},{"c":"Positive","x":863,"y":122},{"c":"Positive","x":849,"y":124},{"c":"Positive","x":877,"y":123},{"c":"Positive","x":840,"y":131},{"c":"Positive","x":866,"y":131},{"c":"Positive","x":860,"y":138},{"c":"Positive","x":857,"y":146},{"c":"Positive","x":844,"y":147},{"c":"Positive","x":896,"y":143},{"c":"Positive","x":847,"y":154},{"c":"Positive","x":852,"y":157},{"c":"Positive","x":841,"y":162},{"c":"Positive","x":863,"y":168},{"c":"Positive","x":847,"y":173},{"c":"Positive","x":851,"y":180},{"c":"Positive","x":901,"y":203},{"c":"Positive","x":926,"y":219},{"c":"Positive","x":892,"y":273},{"c":"Positive","x":944,"y":268},{"c":"Positive","x":938,"y":280},{"c":"Positive","x":926,"y":317},{"c":"Positive","x":938,"y":322},{"c":"Positive","x":915,"y":341},{"c":"Positive","x":924,"y":342},{"c":"Positive","x":923,"y":357},{"c":"Positive","x":924,"y":365},{"c":"Positive","x":932,"y":365},{"c":"Positive","x":910,"y":370},{"c":"Positive","x":914,"y":377},{"c":"Positive","x":920,"y":384},{"c":"Positive","x":915,"y":386},{"c":"Positive","x":916,"y":412},{"c":"Positive","x":915,"y":420},{"c":"Positive","x":974,"y":426},{"c":"Positive","x":991,"y":420},{"c":"Positive","x":955,"y":433},
{"c":"Neutral","x":723,"y":167},{"c":"Neutral","x":759,"y":179},{"c":"Neutral","x":812,"y":179},{"c":"Neutral","x":821,"y":179},{"c":"Neutral","x":829,"y":178},{"c":"Neutral","x":781,"y":193},{"c":"Neutral","x":803,"y":195},{"c":"Neutral","x":812,"y":197},{"c":"Neutral","x":770,"y":209},{"c":"Neutral","x":781,"y":207},{"c":"Neutral","x":781,"y":220},{"c":"Neutral","x":764,"y":228},{"c":"Neutral","x":780,"y":234},{"c":"Neutral","x":729,"y":229},{"c":"Neutral","x":716,"y":227},{"c":"Neutral","x":711,"y":234},{"c":"Neutral","x":719,"y":253},{"c":"Neutral","x":661,"y":271},{"c":"Neutral","x":798,"y":276},{"c":"Neutral","x":801,"y":277},{"c":"Neutral","x":805,"y":283},{"c":"Neutral","x":803,"y":289},{"c":"Neutral","x":801,"y":297},{"c":"Neutral","x":722,"y":286},{"c":"Neutral","x":694,"y":316},{"c":"Neutral","x":706,"y":346},{"c":"Neutral","x":752,"y":346},
{"c":"Neutral","x":896,"y":28},{"c":"Neutral","x":908,"y":29},{"c":"Neutral","x":900,"y":32},{"c":"Neutral","x":882,"y":35},{"c":"Neutral","x":912,"y":39},{"c":"Neutral","x":897,"y":40},{"c":"Neutral","x":902,"y":41},{"c":"Neutral","x":900,"y":45},{"c":"Neutral","x":905,"y":46},{"c":"Neutral","x":894,"y":50},{"c":"Neutral","x":888,"y":54},{"c":"Neutral","x":899,"y":55},{"c":"Neutral","x":906,"y":56},{"c":"Neutral","x":909,"y":57},{"c":"Neutral","x":909,"y":61},{"c":"Neutral","x":904,"y":61},{"c":"Neutral","x":899,"y":64},{"c":"Neutral","x":911,"y":70},{"c":"Neutral","x":893,"y":67},{"c":"Neutral","x":894,"y":71},{"c":"Neutral","x":891,"y":74},{"c":"Neutral","x":883,"y":75},{"c":"Neutral","x":903,"y":73},{"c":"Neutral","x":900,"y":76},{"c":"Neutral","x":915,"y":81},{"c":"Neutral","x":870,"y":79},{"c":"Neutral","x":865,"y":82},{"c":"Neutral","x":893,"y":84},{"c":"Neutral","x":881,"y":87},{"c":"Neutral","x":853,"y":89},{"c":"Neutral","x":858,"y":89},{"c":"Neutral","x":869,"y":92},{"c":"Neutral","x":879,"y":93},{"c":"Neutral","x":861,"y":97},{"c":"Neutral","x":860,"y":102},{"c":"Neutral","x":870,"y":100},{"c":"Neutral","x":903,"y":99},{"c":"Neutral","x":882,"y":106},{"c":"Neutral","x":899,"y":107},{"c":"Neutral","x":870,"y":112},{"c":"Neutral","x":865,"y":115},{"c":"Neutral","x":859,"y":117},{"c":"Neutral","x":896,"y":112},{"c":"Neutral","x":890,"y":114},{"c":"Neutral","x":900,"y":115},{"c":"Neutral","x":848,"y":114},{"c":"Neutral","x":856,"y":124},{"c":"Neutral","x":920,"y":120},{"c":"Neutral","x":884,"y":126},{"c":"Neutral","x":883,"y":131},{"c":"Neutral","x":894,"y":126},{"c":"Neutral","x":896,"y":128},{"c":"Neutral","x":891,"y":131},{"c":"Neutral","x":894,"y":134},{"c":"Neutral","x":873,"y":133},{"c":"Neutral","x":876,"y":136},{"c":"Neutral","x":849,"y":139},{"c":"Neutral","x":839,"y":140},{"c":"Neutral","x":886,"y":141},{"c":"Neutral","x":865,"y":141},{"c":"Neutral","x":870,"y":143},{"c":"Neutral","x":880,"y":146},{"c":"Neutral","x":915,"y":144},{"c":"Neutral","x":901,"y":146},{"c":"Neutral","x":842,"y":149},{"c":"Neutral","x":832,"y":147},{"c":"Neutral","x":829,"y":152},{"c":"Neutral","x":873,"y":152},{"c":"Neutral","x":907,"y":153},{"c":"Neutral","x":843,"y":157},{"c":"Neutral","x":867,"y":159},{"c":"Neutral","x":866,"y":163},{"c":"Neutral","x":859,"y":161},{"c":"Neutral","x":905,"y":160},{"c":"Neutral","x":881,"y":178},{"c":"Neutral","x":878,"y":184},{"c":"Neutral","x":925,"y":175},{"c":"Neutral","x":931,"y":174},{"c":"Neutral","x":913,"y":194},{"c":"Neutral","x":940,"y":194},{"c":"Neutral","x":934,"y":194},{"c":"Neutral","x":937,"y":200},{"c":"Neutral","x":925,"y":200},{"c":"Neutral","x":942,"y":212},{"c":"Neutral","x":930,"y":215},{"c":"Neutral","x":940,"y":220},{"c":"Neutral","x":937,"y":229},{"c":"Neutral","x":949,"y":230},{"c":"Neutral","x":945,"y":234},{"c":"Neutral","x":957,"y":226},{"c":"Neutral","x":927,"y":240},{"c":"Neutral","x":954,"y":241},{"c":"Neutral","x":932,"y":245},{"c":"Neutral","x":940,"y":246},
{"c":"Neutral","x":932,"y":256},{"c":"Neutral","x":945,"y":255},{"c":"Neutral","x":952,"y":258},{"c":"Neutral","x":902,"y":267},{"c":"Neutral","x":903,"y":269},{"c":"Neutral","x":918,"y":280},{"c":"Neutral","x":959,"y":276},{"c":"Neutral","x":964,"y":281},{"c":"Neutral","x":974,"y":280},{"c":"Neutral","x":929,"y":285},{"c":"Neutral","x":930,"y":288},{"c":"Neutral","x":982,"y":291},{"c":"Neutral","x":985,"y":302},{"c":"Neutral","x":916,"y":298},{"c":"Neutral","x":920,"y":296},{"c":"Neutral","x":910,"y":309},{"c":"Neutral","x":903,"y":326},{"c":"Neutral","x":975,"y":313},{"c":"Neutral","x":970,"y":325},{"c":"Neutral","x":974,"y":323},{"c":"Neutral","x":982,"y":326},{"c":"Neutral","x":1000,"y":326},{"c":"Neutral","x":978,"y":334},{"c":"Neutral","x":985,"y":339},{"c":"Neutral","x":990,"y":336},{"c":"Neutral","x":1009,"y":344},{"c":"Neutral","x":972,"y":350},{"c":"Neutral","x":991,"y":351},{"c":"Neutral","x":982,"y":357},{"c":"Neutral","x":1005,"y":358},{"c":"Neutral","x":979,"y":367},{"c":"Neutral","x":993,"y":364},{"c":"Neutral","x":1009,"y":365},{"c":"Neutral","x":1013,"y":367},{"c":"Neutral","x":1014,"y":376},{"c":"Neutral","x":1018,"y":374},{"c":"Neutral","x":1012,"y":385},{"c":"Neutral","x":930,"y":395},{"c":"Neutral","x":924,"y":397},{"c":"Neutral","x":914,"y":404},{"c":"Neutral","x":963,"y":398},{"c":"Neutral","x":990,"y":450}
]},
"hconcat":[
{"width":477,"height":474,"title":{"text":"(a)\u00a0\u00a0AFDEN w/o AFE"},"data":{"name":"a"},"mark":{"type":"point","filled":true,"size":60,"opacity":1},"encoding":{"x":{"field":"x","type":"quantitative","axis":null,"scale":{"domain":[7,484],"nice":false,"zero":false}},"y":{"field":"y","type":"quantitative","axis":null,"scale":{"domain":[7,481],"reverse":true,"nice":false,"zero":false}},"color":{"field":"c","type":"nominal","scale":{"domain":["Positive","Negative","Neutral"],"range":["#e41a1c","#377eb8","#4daf4a"]},"legend":{"orient":"none","legendX":385,"legendY":6,"title":null}}}},
{"width":472,"height":474,"title":{"text":"(b)\u00a0\u00a0Our AFDEN","dx":2},"data":{"name":"b"},"mark":{"type":"point","filled":true,"size":60,"opacity":1},"encoding":{"x":{"field":"x","type":"quantitative","axis":null,"scale":{"domain":[563,1035],"nice":false,"zero":false}},"y":{"field":"y","type":"quantitative","axis":null,"scale":{"domain":[7,481],"reverse":true,"nice":false,"zero":false}},"color":{"field":"c","type":"nominal","scale":{"domain":["Positive","Negative","Neutral"],"range":["#e41a1c","#377eb8","#4daf4a"]},"legend":{"orient":"none","legendX":385,"legendY":5,"title":null}}}}
],
"resolve":{"scale":{"color":"independent"},"legend":{"color":"independent"}}}
